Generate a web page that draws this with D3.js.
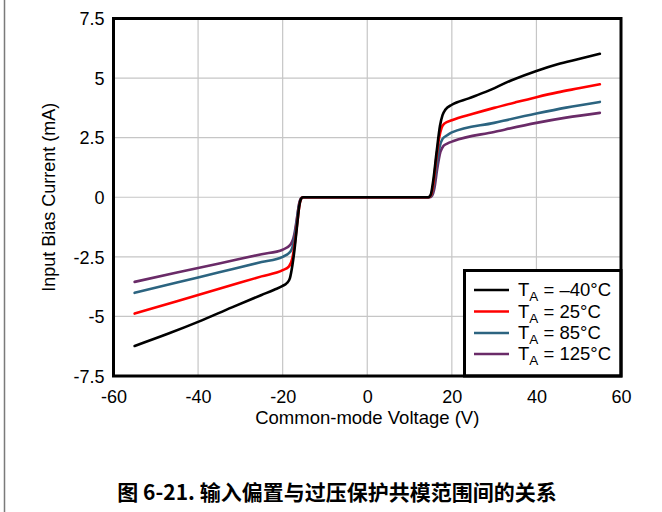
<!DOCTYPE html>
<html>
<head>
<meta charset="utf-8">
<script src="https://cdn.jsdelivr.net/npm/d3@7"></script>
<style>
  html, body { margin: 0; padding: 0; background: #fff; }
  svg { display: block; }
  text { font-family: "Liberation Sans", Arial, sans-serif; fill: #000; }
</style>
</head>
<body>
<svg id="chart" width="662" height="512"></svg>
<script>
// Input bias current vs. common-mode voltage, four ambient temperatures
const xTicks = [-60, -40, -20, 0, 20, 40, 60];
const yTicks = [-7.5, -5, -2.5, 0, 2.5, 5, 7.5];
const yTickLabels = ["-7.5", "-5", "-2.5", "0", "2.5", "5", "7.5"];

const seriesNames = ["\u201340\u00B0C", "25\u00B0C", "85\u00B0C", "125\u00B0C"];
const seriesColors = ["#000000", "#ff0000", "#2c6480", "#6a2b68"];

// Common-mode voltage (V) and input bias current (mA) for each temperature
const vcmM40 = [-55, -47, -40, -32, -25, -22, -20, -19, -18.3, -17.7, -17.2, -16.6, -16.1, -15.6, -15.2, 14.4, 15.0, 15.6, 16.4, 17.2, 17.8, 18.5, 20, 24, 28, 34, 40, 45, 50, 55];
const ibM40  = [-6.24, -5.72, -5.23, -4.62, -4.1, -3.88, -3.72, -3.6, -3.4, -2.85, -2.2, -1.2, -0.4, -0.05, 0, 0, 0.1, 0.7, 1.9, 3.0, 3.45, 3.68, 3.88, 4.15, 4.42, 4.9, 5.3, 5.58, 5.8, 6.02];

const vcm25 = [-55, -45, -35, -25, -20, -18.5, -17.7, -17.1, -16.5, -16.0, -15.5, -15.1, 14.5, 15.1, 15.7, 16.3, 17.0, 17.6, 18.3, 20, 25, 30, 35, 40, 45, 50, 55];
const ib25  = [-4.88, -4.36, -3.84, -3.32, -3.06, -2.9, -2.55, -1.9, -1.0, -0.3, -0.03, 0, 0, 0.1, 0.65, 1.6, 2.5, 2.92, 3.1, 3.23, 3.5, 3.75, 3.98, 4.2, 4.4, 4.57, 4.74];

const vcm85 = [-55, -45, -35, -25, -20, -18.2, -17.4, -16.8, -16.2, -15.6, -15.1, 14.6, 15.2, 15.8, 16.4, 17.1, 17.8, 18.9, 20, 30, 40, 47, 55];
const ib85  = [-4.01, -3.58, -3.15, -2.72, -2.5, -2.29, -1.9, -1.2, -0.4, -0.05, 0, 0, 0.08, 0.55, 1.35, 2.1, 2.45, 2.6, 2.72, 3.12, 3.51, 3.76, 4.0];

const vcm125 = [-55, -45, -35, -25, -20, -18.2, -17.3, -16.7, -16.1, -15.5, -15.0, 14.7, 15.3, 15.9, 16.5, 17.3, 18.0, 18.9, 20.4, 30, 40, 47, 55];
const ib125  = [-3.55, -3.16, -2.78, -2.39, -2.2, -2.0, -1.6, -0.96, -0.25, -0.02, 0, 0, 0.06, 0.4, 1.14, 1.9, 2.15, 2.25, 2.36, 2.74, 3.12, 3.34, 3.54];

const seriesX = [vcmM40, vcm25, vcm85, vcm125];
const seriesY = [ibM40, ib25, ib85, ib125];

const svg = d3.select("#chart");

// page edge rule on the left
svg.append("line")
  .attr("x1", 4.5).attr("x2", 4.5).attr("y1", 0).attr("y2", 512)
  .attr("stroke", "#7a7a7a").attr("stroke-width", 1.5);

const plot = { left: 113.5, right: 621, top: 18.5, bottom: 376 };

const x = d3.scaleLinear().domain([-60, 60]).range([plot.left, plot.right]);
const y = d3.scaleLinear().domain([-7.5, 7.5]).range([plot.bottom, plot.top]);

// grid
const grid = svg.append("g");
grid.selectAll("line.vx").data(xTicks.slice(1, -1)).join("line")
  .attr("x1", d => x(d)).attr("x2", d => x(d))
  .attr("y1", plot.top).attr("y2", plot.bottom)
  .attr("stroke", "#c6c6c6").attr("stroke-width", 1.2);
grid.selectAll("line.hy").data(yTicks.slice(1, -1)).join("line")
  .attr("x1", plot.left).attr("x2", plot.right)
  .attr("y1", d => y(d)).attr("y2", d => y(d))
  .attr("stroke", "#c6c6c6").attr("stroke-width", 1.2);

// axes (labels only; the frame is drawn separately)
const xAxis = d3.axisBottom(x).tickValues(xTicks).tickSize(0).tickPadding(0)
  .tickFormat(d => String(d));
const gx = svg.append("g").attr("transform", `translate(0,${plot.bottom})`).call(xAxis);
gx.select(".domain").remove();
gx.selectAll("text").attr("y", 27).attr("dy", null)
  .style("font-size", "18px").style("font-family", "Liberation Sans, Arial, sans-serif").attr("fill", "#000");

const yAxis = d3.axisLeft(y).tickValues(yTicks).tickSize(0).tickPadding(0)
  .tickFormat((d, i) => yTickLabels[i]);
const gy = svg.append("g").attr("transform", `translate(${plot.left},0)`).call(yAxis);
gy.select(".domain").remove();
gy.selectAll("text").attr("x", -9).attr("dy", "0.35em")
  .style("font-size", "18px").style("font-family", "Liberation Sans, Arial, sans-serif").attr("fill", "#000");

// curves
const line = d3.line()
  .x(d => x(d[0])).y(d => y(d[1]))
  .curve(d3.curveMonotoneX);

svg.append("clipPath").attr("id", "plotclip").append("rect")
  .attr("x", plot.left).attr("y", plot.top)
  .attr("width", plot.right - plot.left).attr("height", plot.bottom - plot.top);

const curves = svg.append("g").attr("clip-path", "url(#plotclip)");
// draw hottest first so the -40 °C trace sits on top
for (let i = seriesX.length - 1; i >= 0; i--) {
  const pts = seriesX[i].map((v, k) => [v, seriesY[i][k]]);
  curves.append("path")
    .attr("d", line(pts))
    .attr("fill", "none")
    .attr("stroke", seriesColors[i])
    .attr("stroke-width", 2.6)
    .attr("stroke-linejoin", "round")
    .attr("stroke-linecap", "round");
}

// legend
const lg = { left: 464.5, top: 270.5 };
svg.append("rect")
  .attr("x", lg.left).attr("y", lg.top)
  .attr("width", plot.right - lg.left).attr("height", plot.bottom - lg.top)
  .attr("fill", "#fff").attr("stroke", "#000").attr("stroke-width", 3);

const rowY = [290, 311.5, 333, 354];
seriesNames.forEach((name, i) => {
  svg.append("line")
    .attr("x1", 474).attr("x2", 509)
    .attr("y1", rowY[i]).attr("y2", rowY[i])
    .attr("stroke", seriesColors[i]).attr("stroke-width", 2.6);
  const t = svg.append("text")
    .attr("x", 518).attr("y", rowY[i] + 6)
    .style("font-size", "18.5px");
  t.append("tspan").text("T");
  t.append("tspan").attr("dy", 5).style("font-size", "13.5px").text("A");
  t.append("tspan").attr("dy", -5).text(" = " + name);
});

// plot frame
svg.append("rect")
  .attr("x", plot.left).attr("y", plot.top)
  .attr("width", plot.right - plot.left).attr("height", plot.bottom - plot.top)
  .attr("fill", "none").attr("stroke", "#000").attr("stroke-width", 3);

// axis titles
svg.append("text")
  .attr("x", x(0)).attr("y", 424)
  .attr("text-anchor", "middle")
  .style("font-size", "18.5px")
  .text("Common-mode Voltage (V)");

svg.append("text")
  .attr("transform", `translate(55,${y(0)}) rotate(-90)`)
  .attr("text-anchor", "middle")
  .style("font-size", "18px")
  .text("Input Bias Current (mA)");

// figure caption
svg.append("text")
  .attr("x", 337).attr("y", 500)
  .attr("text-anchor", "middle")
  .style("font-family", "'Noto Sans CJK SC', 'Liberation Sans', sans-serif")
  .style("font-weight", "bold")
  .style("font-size", "21px")
  .text("图 6-21. 输入偏置与过压保护共模范围间的关系");
</script>
</body>
</html>
